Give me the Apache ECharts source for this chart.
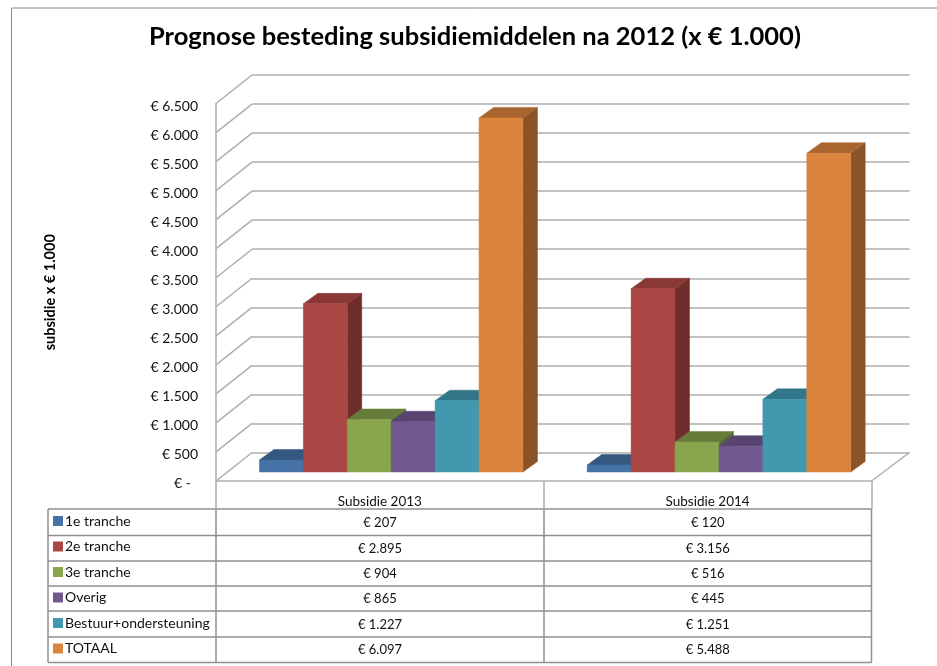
<!DOCTYPE html>
<html>
<head>
<meta charset="utf-8">
<title>Prognose besteding subsidiemiddelen</title>
<style>
  html, body { margin: 0; padding: 0; background: #fff; }
  #chart { width: 937px; height: 666px; }
</style>
<script src="https://cdn.jsdelivr.net/npm/echarts@6/dist/echarts.min.js"></script>
</head>
<body>
<div id="chart"></div>
<script>
const categories = ['Subsidie 2013', 'Subsidie 2014']
const seriesNames = ['1e tranche', '2e tranche', '3e tranche', 'Overig', 'Bestuur+ondersteuning', 'TOTAAL']
const tranche1 = [207, 120]
const tranche2 = [2895, 3156]
const tranche3 = [904, 516]
const overig = [865, 445]
const bestuur = [1227, 1251]
const totaal = [6097, 5488]
const seriesValues = [tranche1, tranche2, tranche3, overig, bestuur, totaal]
const yTicks = [0, 500, 1000, 1500, 2000, 2500, 3000, 3500, 4000, 4500, 5000, 5500, 6000, 6500]

// front, top and side colours of the blocks
const frontColors = ['#4572a7', '#aa4643', '#89a54e', '#71588f', '#4198af', '#db843d']
const topColors = ['#34587f', '#8a3836', '#677c3b', '#574470', '#32768a', '#a9652e']
const sideColors = ['#2b4a6b', '#6f2d2c', '#566833', '#473859', '#296375', '#8a5428']

const FONT = 'Lato, "Open Sans", sans-serif'
const GRID_COLOR = '#aeaeae'
const TABLE_COLOR = '#8f8f8f'
const TEXT_COLOR = '#111'

// 3d look
const WALL_DX = 36
const WALL_DY = 28.5
const BAR_DX = 14.5
const BAR_DY = 10.5
const BAR_LIFT = 9
const BAR_BAND = 0.134
const BAR_SHIFT = 0.0345

const tableX = [48, 216, 544, 871.5]
const tableY = [509, 535.5, 561, 586, 611, 637, 662.5]

function euro (v) {
  return '€ ' + String(v).replace(/\B(?=(\d{3})+$)/g, '.')
}

function poly (points, color) {
  return {
    type: 'polygon',
    shape: { points: points },
    style: { fill: color, stroke: color, lineWidth: 0.5 }
  }
}

function barSeries (name, i) {
  return {
    name: name,
    type: 'custom',
    xAxisIndex: 0,
    yAxisIndex: 0,
    itemStyle: { color: frontColors[i] },
    data: categories.map((c, k) => [k, seriesValues[i][k]]),
    z: 5,
    renderItem (params, api) {
      const top = api.coord([api.value(0), api.value(1)])
      const base = api.coord([api.value(0), 0])
      const band = api.size([1, 0])[0]
      const w = band * BAR_BAND
      const x0 = top[0] + band * BAR_SHIFT + (i - 3) * w
      const x1 = x0 + w
      const y0 = top[1] - BAR_LIFT
      const y1 = base[1] - BAR_LIFT
      return {
        type: 'group',
        children: [
          poly([[x1, y0], [x1 + BAR_DX, y0 - BAR_DY], [x1 + BAR_DX, y1 - BAR_DY], [x1, y1]], sideColors[i]),
          poly([[x0, y0], [x0 + BAR_DX, y0 - BAR_DY], [x1 + BAR_DX, y0 - BAR_DY], [x1, y0]], topColors[i]),
          poly([[x0, y0], [x1, y0], [x1, y1], [x0, y1]], frontColors[i])
        ]
      }
    }
  }
}

// left wall diagonals, one per tick, plus the right edge of the floor
const wallSeries = {
  type: 'custom',
  xAxisIndex: 0,
  yAxisIndex: 0,
  data: yTicks.map(v => [0, v]),
  z: 2,
  silent: true,
  renderItem (params, api) {
    const y = api.coord([0, api.value(1)])[1]
    const x = params.coordSys.x
    const lineStyle = { stroke: GRID_COLOR, lineWidth: 1.5, fill: 'none' }
    const children = [{
      type: 'line',
      shape: { x1: x, y1: y, x2: x + WALL_DX, y2: y - WALL_DY },
      style: lineStyle
    }]
    if (api.value(1) === 0) {
      const xr = x + params.coordSys.width
      children.push({
        type: 'line',
        shape: { x1: xr, y1: y, x2: xr + WALL_DX + 2, y2: y - WALL_DY },
        style: lineStyle
      })
    }
    return { type: 'group', children: children }
  }
}

function tableGraphics () {
  const out = []
  const line = { stroke: TABLE_COLOR, lineWidth: 1.5 }
  tableY.forEach(y => {
    out.push({ type: 'line', shape: { x1: tableX[0], y1: y, x2: tableX[3], y2: y }, style: line })
  })
  tableX.forEach(x => {
    out.push({ type: 'line', shape: { x1: x, y1: tableY[0], x2: x, y2: tableY[6] }, style: line })
  })
  seriesValues.forEach((vals, r) => {
    vals.forEach((v, c) => {
      out.push({
        type: 'text',
        x: (tableX[c + 1] + tableX[c + 2]) / 2,
        y: (tableY[r] + tableY[r + 1]) / 2 + 0.5,
        style: {
          text: euro(v),
          font: '13px ' + FONT,
          fill: TEXT_COLOR,
          textAlign: 'center',
          textVerticalAlign: 'middle'
        }
      })
    })
  })
  // outer frame of the picture
  out.push({ type: 'line', shape: { x1: 11.5, y1: 8, x2: 937, y2: 8 }, style: { stroke: '#8a8a8a', lineWidth: 1 } })
  out.push({ type: 'line', shape: { x1: 11.5, y1: 8, x2: 11.5, y2: 666 }, style: { stroke: '#8a8a8a', lineWidth: 1 } })
  return out
}

const mychart = echarts.init(document.getElementById('chart'))
const option = {
  animation: false,
  backgroundColor: '#fff',
  textStyle: { fontFamily: FONT },
  title: {
    text: 'Prognose besteding subsidiemiddelen na 2012 (x € 1.000)',
    left: 149,
    top: 24,
    padding: 0,
    textStyle: { fontFamily: FONT, fontSize: 25.5, fontWeight: 'bold', color: '#000' }
  },
  legend: {
    data: seriesNames,
    orient: 'vertical',
    left: 53,
    top: 514,
    padding: 0,
    itemWidth: 10,
    itemHeight: 10,
    itemGap: 11.5,
    selectedMode: false,
    icon: 'rect',
    textStyle: { fontFamily: FONT, fontSize: 14, color: TEXT_COLOR, padding: [0, 0, 0, -3] }
  },
  grid: [
    { left: 216, top: 103.5, width: 655.5, height: 377.5 },
    { left: 252, top: 75, width: 657.5, height: 377.5 }
  ],
  xAxis: [
    {
      type: 'category',
      gridIndex: 0,
      data: categories,
      axisLine: { lineStyle: { color: GRID_COLOR, width: 1.5 } },
      axisTick: { show: true, length: 28, lineStyle: { color: GRID_COLOR, width: 1.5 } },
      axisLabel: { margin: 14, fontFamily: FONT, fontSize: 13.5, color: TEXT_COLOR }
    },
    { type: 'category', gridIndex: 1, data: categories, show: false }
  ],
  yAxis: [
    {
      type: 'value',
      gridIndex: 0,
      min: 0,
      max: 6500,
      interval: 500,
      name: 'subsidie x € 1.000',
      nameLocation: 'middle',
      nameGap: 158,
      nameTextStyle: { fontFamily: FONT, fontSize: 14.5, fontWeight: 'bold', color: '#000' },
      axisLine: { show: true, lineStyle: { color: GRID_COLOR, width: 1.5 } },
      axisTick: { show: false },
      splitLine: { show: false },
      axisLabel: {
        margin: 18,
        fontFamily: FONT,
        fontSize: 14,
        color: TEXT_COLOR,
        verticalAlign: 'top',
        lineHeight: 5,
        formatter: v => (v === 0 ? '€ -  ' : euro(v))
      }
    },
    {
      type: 'value',
      gridIndex: 1,
      min: 0,
      max: 6500,
      interval: 500,
      axisLine: { show: false },
      axisTick: { show: false },
      axisLabel: { show: false },
      splitLine: { show: true, lineStyle: { color: GRID_COLOR, width: 1.5 } }
    }
  ],
  series: [wallSeries].concat(seriesNames.map(barSeries)),
  graphic: tableGraphics()
}
mychart.setOption(option)
</script>
</body>
</html>
